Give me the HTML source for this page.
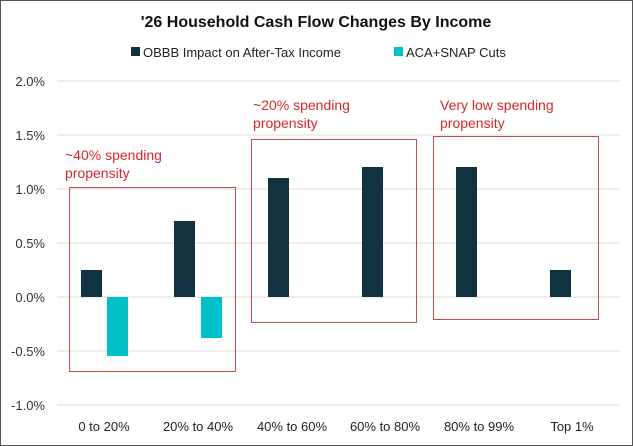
<!DOCTYPE html><html><head><style>body{margin:0}svg{display:block}text{font-family:"Liberation Sans",sans-serif}</style></head><body>
<svg width="633" height="446" viewBox="0 0 633 446">
<rect x="0.5" y="0.5" width="632" height="445" fill="#fff" stroke="#555"/>
<text x="316" y="27" text-anchor="middle" font-size="16" font-weight="bold" fill="#111">'26 Household Cash Flow Changes By Income</text>
<rect x="131" y="47" width="9" height="9" fill="#10333f"/><text x="143" y="57" font-size="13" fill="#222">OBBB Impact on After-Tax Income</text>
<rect x="394" y="47" width="9" height="9" fill="#00c0c8"/><text x="406" y="57" font-size="13" fill="#222">ACA+SNAP Cuts</text>
<g stroke="#d9d9d9" stroke-width="1">
<line x1="57" x2="620" y1="81" y2="81"/><line x1="57" x2="620" y1="135" y2="135"/><line x1="57" x2="620" y1="189" y2="189"/><line x1="57" x2="620" y1="243" y2="243"/><line x1="57" x2="620" y1="297" y2="297"/><line x1="57" x2="620" y1="351" y2="351"/><line x1="57" x2="620" y1="405" y2="405"/></g>
<g font-size="13" fill="#333" text-anchor="end">
<text x="45" y="86">2.0%</text><text x="45" y="140">1.5%</text><text x="45" y="194">1.0%</text><text x="45" y="248">0.5%</text><text x="45" y="302">0.0%</text><text x="45" y="356">-0.5%</text><text x="45" y="410">-1.0%</text></g>
<g fill="#10333f">
<rect x="81" y="270" width="21" height="27"/><rect x="174" y="221" width="21" height="76"/><rect x="268" y="178" width="21" height="119"/><rect x="362" y="167" width="21" height="130"/><rect x="456" y="167" width="21" height="130"/><rect x="550" y="270" width="21" height="27"/></g>
<g fill="#00c0c8"><rect x="107" y="297" width="21" height="59"/><rect x="201" y="297" width="21" height="41"/></g>
<rect x="69.5" y="187.5" width="166" height="184" fill="none" stroke="#c0504d" stroke-width="1"/>
<rect x="251.5" y="139.5" width="165" height="183" fill="none" stroke="#c0504d" stroke-width="1"/>
<rect x="433.5" y="136.5" width="165" height="183" fill="none" stroke="#c0504d" stroke-width="1"/>
<g font-size="14" fill="#d9262a">
<text x="65" y="160">~40% spending</text><text x="65" y="178">propensity</text>
<text x="253" y="110">~20% spending</text><text x="253" y="128">propensity</text>
<text x="440" y="110">Very low spending</text><text x="440" y="128">propensity</text></g>
<g font-size="13" fill="#222" text-anchor="middle">
<text x="104" y="431">0 to 20%</text><text x="198" y="431">20% to 40%</text><text x="292" y="431">40% to 60%</text><text x="385" y="431">60% to 80%</text><text x="479" y="431">80% to 99%</text><text x="572" y="431">Top 1%</text></g>
</svg></body></html>
